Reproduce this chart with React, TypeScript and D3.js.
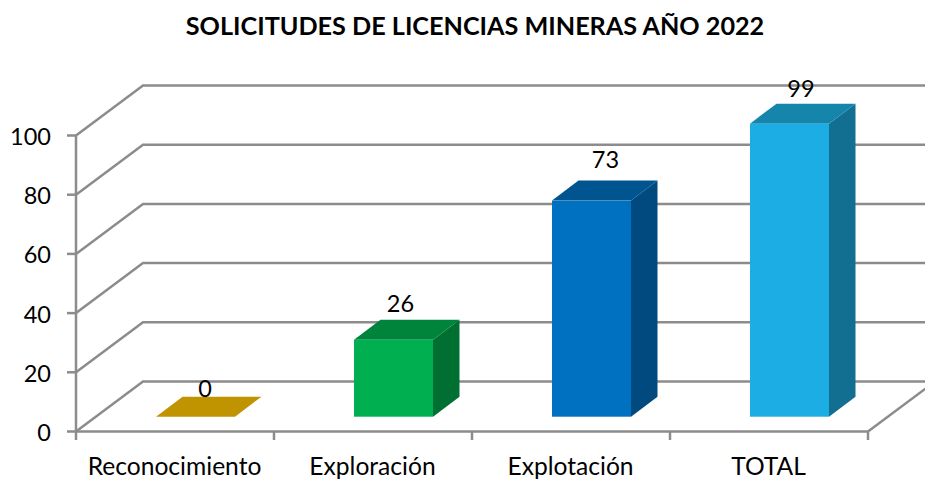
import React from 'react';
import * as d3 from 'd3';

const categories = ['Reconocimiento', 'Exploración', 'Explotación', 'TOTAL'];
const values = [0, 26, 73, 99];
const yTicks = [0, 20, 40, 60, 80, 100];
const frontColors = ['#c09400', '#00b050', '#0070c0', '#1cade4'];
const topColors = ['#c09400', '#00843c', '#00548f', '#1585ac'];
const sideColors = ['#c09400', '#007032', '#004a80', '#126f92'];
const title = 'SOLICITUDES DE LICENCIAS MINERAS AÑO 2022';

const width = 925;
const height = 481;
const left = 76;
const right = 868;
const baseY = 431.5;
const topY = 135.5;
// wall depth, and how far the bars sit from the front and how deep they are
const depthX = 67;
const depthY = 50;
const barInsetX = 20.5;
const barInsetY = 14.8;
const barDepthX = 26.5;
const barDepthY = 20;
const barWidth = 79;
const gridColor = '#8c8c8c';
const font = 'Lato, sans-serif';
// data labels are not placed evenly in the original
const labelNudgeX = [9.5, 7, 14, 11.5];
const labelNudgeY = [0, 8, 12.5, 7];

const x = d3.scaleBand<string>().domain(categories).range([left, right]);
const y = d3.scaleLinear().domain([0, 100]).range([baseY, topY]);
const line = d3.line();

export default function App() {
  return (
    <svg
      width={width}
      height={height}
      style={{ position: 'absolute', left: 0, top: 0, background: '#fff' }}
      fontFamily={font}
    >
      <text x={475} y={35} textAnchor="middle" fontSize={25.2} fontWeight={700} fill="#000">
        {title}
      </text>

      {/* walls */}
      <g fill="none" stroke={gridColor} strokeWidth={2.5}>
        {yTicks.map(t => (
          <path
            key={t}
            d={line([
              [left, y(t)],
              [left + depthX, y(t) - depthY],
              [right + depthX, y(t) - depthY],
            ]) as string}
          />
        ))}
        <path d={line([[left, topY], [left, baseY], [right, baseY], [right + depthX, baseY - depthY]]) as string} />
        {yTicks.map(t => (
          <path key={t} d={line([[left - 9, y(t)], [left, y(t)]]) as string} />
        ))}
        {[...categories.map(c => x(c) as number), right].map(v => (
          <path key={v} d={line([[v, baseY], [v, baseY + 8.5]]) as string} />
        ))}
      </g>

      {/* bars */}
      {categories.map((c, i) => {
        const x0 = (x(c) as number) + x.bandwidth() / 2 + barInsetX - barWidth / 2;
        const x1 = x0 + barWidth;
        const yBottom = baseY - barInsetY;
        const yTop = y(values[i]) - barInsetY;
        return (
          <g key={c}>
            <path
              fill={sideColors[i]}
              d={line([[x1, yTop], [x1 + barDepthX, yTop - barDepthY], [x1 + barDepthX, yBottom - barDepthY], [x1, yBottom]]) + 'Z'}
            />
            <path
              fill={topColors[i]}
              d={line([[x0, yTop], [x0 + barDepthX, yTop - barDepthY], [x1 + barDepthX, yTop - barDepthY], [x1, yTop]]) + 'Z'}
            />
            <rect x={x0} y={yTop} width={barWidth} height={yBottom - yTop} fill={frontColors[i]} />
            <text
              x={x0 + barWidth / 2 + labelNudgeX[i]}
              y={yTop - barDepthY - labelNudgeY[i]}
              textAnchor="middle"
              fontSize={23.5}
              fill="#000"
            >
              {values[i]}
            </text>
          </g>
        );
      })}

      {yTicks.map(t => (
        <text key={t} x={51} y={y(t) + 9.5} textAnchor="end" fontSize={23.5} fill="#000">
          {t}
        </text>
      ))}
      {categories.map(c => (
        <text key={c} x={(x(c) as number) + x.bandwidth() / 2 - 0.5} y={475} textAnchor="middle" fontSize={24.6} fill="#000">
          {c}
        </text>
      ))}
    </svg>
  );
}
